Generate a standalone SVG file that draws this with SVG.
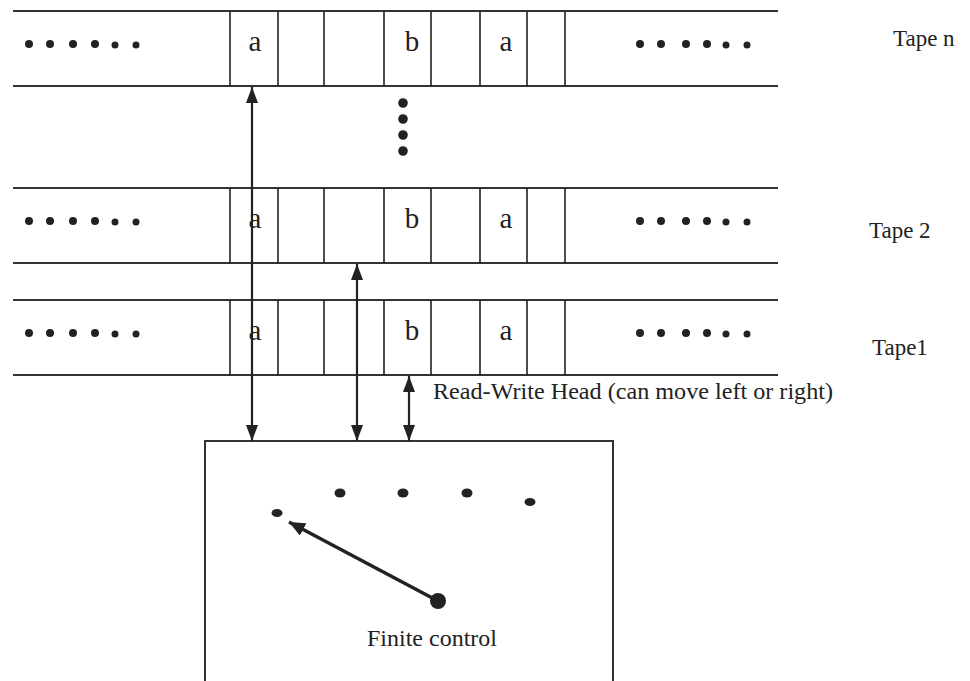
<svg xmlns="http://www.w3.org/2000/svg" width="970" height="681" viewBox="0 0 970 681">
<style>
.tl{stroke:#333;stroke-width:2;fill:none}
.cd{stroke:#222;stroke-width:1.6;fill:none}
.sym{font-family:"Liberation Serif","Times New Roman",serif;font-size:29px;fill:#222;text-anchor:middle}
.lbl{font-family:"Liberation Serif","Times New Roman",serif;font-size:23px;fill:#222}
.fc{font-size:24px;text-anchor:middle}
.dot{fill:#222}
.conn{stroke:#222;stroke-width:2.2;fill:none}
.box{stroke:#333;stroke-width:2;fill:none}
</style>
<defs>
<marker id="ah" viewBox="0 0 16 12" refX="16" refY="6" markerWidth="16" markerHeight="12" markerUnits="userSpaceOnUse" orient="auto-start-reverse">
<path d="M0,0 L16,6 L0,12 z" fill="#222"/>
</marker>
<marker id="ah2" viewBox="0 0 16 14" refX="16" refY="7" markerWidth="16" markerHeight="14" markerUnits="userSpaceOnUse" orient="auto">
<path d="M0,0 L16,7 L0,14 z" fill="#222"/>
</marker>
<g id="tape">
<line class="tl" x1="13" y1="0" x2="778" y2="0"/>
<line class="tl" x1="13" y1="75" x2="778" y2="75"/>
<path class="cd" d="M230,0V75M278,0V75M324,0V75M384,0V75M431,0V75M480,0V75M527,0V75M565,0V75"/>
<circle class="dot" cx="29" cy="33" r="4"/>
<circle class="dot" cx="50" cy="33" r="4"/>
<circle class="dot" cx="73" cy="33" r="4"/>
<circle class="dot" cx="95" cy="33" r="4"/>
<circle class="dot" cx="115" cy="34" r="3.5"/>
<circle class="dot" cx="136" cy="34" r="3.5"/>
<circle class="dot" cx="640" cy="33" r="4"/>
<circle class="dot" cx="661" cy="33" r="4"/>
<circle class="dot" cx="686" cy="33" r="4"/>
<circle class="dot" cx="707" cy="33" r="4"/>
<circle class="dot" cx="726" cy="34" r="3.5"/>
<circle class="dot" cx="747" cy="34" r="3.5"/>
<text class="sym" x="255" y="40">a</text>
<text class="sym" x="412" y="40">b</text>
<text class="sym" x="506" y="40">a</text>
</g>
</defs>
<g id="tape-n">
<use href="#tape" x="0" y="11"/>
<text class="lbl" x="893" y="46">Tape n</text>
</g>
<g id="ellipsis">
<circle class="dot" cx="403" cy="103" r="4.8"/>
<circle class="dot" cx="403" cy="119" r="4.8"/>
<circle class="dot" cx="403" cy="135" r="4.8"/>
<circle class="dot" cx="403" cy="151" r="4.8"/>
</g>
<g id="tape-2">
<use href="#tape" x="0" y="188"/>
<text class="lbl" x="869" y="238">Tape 2</text>
</g>
<g id="tape-1">
<use href="#tape" x="0" y="300"/>
<text class="lbl" x="872" y="355">Tape1</text>
</g>
<g id="head-label">
<text class="lbl" x="433" y="399" textLength="400" lengthAdjust="spacingAndGlyphs">Read-Write Head (can move left or right)</text>
</g>
<g id="finite-control">
<path class="box" d="M205,690 V441 H613 V690"/>
<ellipse class="dot" cx="340" cy="493" rx="5.5" ry="4.5"/>
<ellipse class="dot" cx="403" cy="493" rx="5.5" ry="4.5"/>
<ellipse class="dot" cx="467" cy="493" rx="5.5" ry="4.5"/>
<ellipse class="dot" cx="530" cy="502" rx="5.5" ry="4"/>
<ellipse class="dot" cx="277" cy="513" rx="5.5" ry="4"/>
<circle class="dot" cx="438" cy="601" r="8"/>
<line x1="438" y1="601" x2="289" y2="522" stroke="#222" stroke-width="3.5" marker-end="url(#ah2)"/>
<text class="lbl fc" x="432" y="646">Finite control</text>
</g>
<g id="connectors">
<line class="conn" x1="252" y1="87" x2="252" y2="441" marker-start="url(#ah)" marker-end="url(#ah)"/>
<line class="conn" x1="357" y1="264" x2="357" y2="441" marker-start="url(#ah)" marker-end="url(#ah)"/>
<line class="conn" x1="409" y1="376" x2="409" y2="441" marker-start="url(#ah)" marker-end="url(#ah)"/>
</g>
</svg>
